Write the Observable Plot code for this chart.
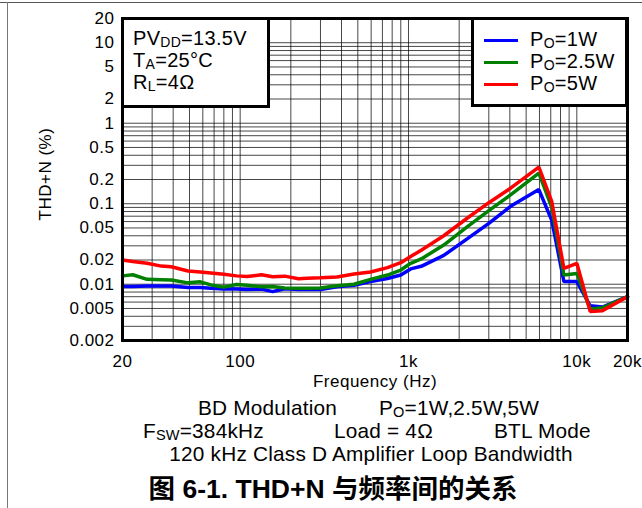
<!DOCTYPE html>
<html><head><meta charset="utf-8">
<script src="https://cdn.jsdelivr.net/npm/d3@7"></script>
<script src="https://cdn.jsdelivr.net/npm/@observablehq/plot@0.6"></script>
<style>
body{margin:0;background:#fff;}
#fig{position:relative;width:642px;height:508px;font-family:"Liberation Sans",Arial,"Noto Sans CJK SC",sans-serif;color:#000;overflow:hidden;background:#fff}
#fig svg{position:absolute;left:0;top:0}
#fig svg text{letter-spacing:0.5px}
.abs{position:absolute;white-space:nowrap}
.box{position:absolute;border:3px solid #000;background:#fff;box-sizing:border-box}
.sub{font-size:0.7em;position:relative;top:0.14em;line-height:0}
.lg{font-size:20px;letter-spacing:0.3px;line-height:22px}
.cap{font-size:20.8px;letter-spacing:0.2px;line-height:18px}
.sw{position:absolute;height:3px;width:34px}
</style></head><body>
<div id="fig"></div>
<script>
// ---- data ----
const freq = [20, 23, 28, 34, 39, 49, 58, 67, 80, 95, 110, 134, 156, 184, 222, 250, 300, 376, 475, 595, 750, 900, 1030, 1190, 1620, 2230, 3000, 4040, 5950, 7100, 8380, 10000, 12000, 14200, 20000];
const thd1W   = [0.0094, 0.0094, 0.0095, 0.0095, 0.0095, 0.0091, 0.0091, 0.0089, 0.0087, 0.0087, 0.0086, 0.0087, 0.0081, 0.0088, 0.0086, 0.0086, 0.0086, 0.0093, 0.0097, 0.0108, 0.0118, 0.0130, 0.0155, 0.0167, 0.0228, 0.0366, 0.0571, 0.093, 0.150, 0.062, 0.0108, 0.0108, 0.0054, 0.0052, 0.0070];
const thd2_5W = [0.0127, 0.0131, 0.0115, 0.0114, 0.0113, 0.0104, 0.0107, 0.0098, 0.0092, 0.0099, 0.0097, 0.0093, 0.0094, 0.0090, 0.0089, 0.0089, 0.0090, 0.0096, 0.0100, 0.0115, 0.0130, 0.0150, 0.0182, 0.0206, 0.0307, 0.0517, 0.082, 0.129, 0.240, 0.090, 0.0130, 0.0136, 0.0049, 0.0051, 0.0070];
const thd5W   = [0.0200, 0.0192, 0.0182, 0.0168, 0.0165, 0.0146, 0.0142, 0.0138, 0.0133, 0.0127, 0.0125, 0.0131, 0.0124, 0.0126, 0.0117, 0.0119, 0.0120, 0.0123, 0.0134, 0.0142, 0.0161, 0.0185, 0.0221, 0.0265, 0.0400, 0.066, 0.103, 0.156, 0.285, 0.106, 0.0157, 0.0182, 0.0046, 0.0047, 0.0070];

const seriesNames = ["P<span class='sub'>O</span>=1W", "P<span class='sub'>O</span>=2.5W", "P<span class='sub'>O</span>=5W"];
const seriesColors = ["#0000ff", "#008000", "#ff0000"];

const xTicks = [20, 100, 1000, 10000, 20000];
const xTickLabels = ["20", "100", "1k", "10k", "20k"];
const yTicks = [20, 10, 5, 2, 1, 0.5, 0.2, 0.1, 0.05, 0.02, 0.01, 0.005, 0.002];
const yTickLabels = ["20", "10", "5", "2", "1", "0.5", "0.2", "0.1", "0.05", "0.02", "0.01", "0.005", "0.002"];

const xLabel = "Frequency (Hz)";
const yLabel = "THD+N (%)";
const condLines = ["PV<span class='sub'>DD</span>=13.5V", "T<span class='sub'>A</span>=25°C", "R<span class='sub'>L</span>=4Ω"];

// log grid (1..9 per decade)
const decadesX = [10, 100, 1000, 10000];
const xGrid = decadesX.flatMap(d => [1,2,3,4,5,6,7,8,9].map(k => k * d)).filter(v => v >= 20 && v <= 20000);
const decadesY = [0.001, 0.01, 0.1, 1, 10];
const yGrid = decadesY.flatMap(d => [1,2,3,4,5,6,7,8,9].map(k => +(k * d).toPrecision(3))).filter(v => v >= 0.002 && v <= 20);

const rows = arr => freq.map((f, i) => ({f, v: arr[i]}));

const font = '"Liberation Sans", Arial, sans-serif';
const chart = Plot.plot({
  width: 642, height: 370,
  marginLeft: 122, marginRight: 15, marginTop: 18, marginBottom: 30,
  x: {type: "log", domain: [20, 20000]},
  y: {type: "log", domain: [0.002, 20], axis: null},
  style: {fontFamily: font, fontSize: "17px", color: "#000", background: "transparent", overflow: "visible"},
  marks: [
    Plot.ruleX(xGrid, {stroke: "#000", strokeOpacity: 0.72, strokeWidth: 1}),
    Plot.ruleY(yGrid, {stroke: "#000", strokeOpacity: 0.72, strokeWidth: 1}),
    Plot.line(rows(thd1W), {x: "f", y: "v", stroke: seriesColors[0], strokeWidth: 3.5, strokeLinejoin: "miter"}),
    Plot.line(rows(thd2_5W), {x: "f", y: "v", stroke: seriesColors[1], strokeWidth: 3.5, strokeLinejoin: "miter"}),
    Plot.line(rows(thd5W), {x: "f", y: "v", stroke: seriesColors[2], strokeWidth: 3.5, strokeLinejoin: "miter"}),
    Plot.frame({stroke: "#000", strokeWidth: 3}),
    Plot.axisX({ticks: xTicks, tickFormat: d => xTickLabels[xTicks.indexOf(d)], tickSize: 0, tickPadding: 14, label: null, fontSize: 17}),
    Plot.text(yTicks, {y: d => d, text: (d, i) => yTickLabels[i], frameAnchor: "left", textAnchor: "end", lineAnchor: "middle", dx: -8, fontSize: 17}),
    Plot.text([xLabel], {frameAnchor: "bottom", textAnchor: "middle", lineAnchor: "middle", dy: 41, fontSize: 17}),
    Plot.text([yLabel], {frameAnchor: "left", textAnchor: "middle", lineAnchor: "middle", dx: -77, dy: -5.5, rotate: -90, fontSize: 17})
  ]
});

const fig = document.getElementById("fig");
fig.appendChild(chart);

// figure border (top and left)
fig.insertAdjacentHTML("beforeend",
  `<div class="abs" style="left:0;top:2px;width:642px;height:1px;background:#555"></div>
   <div class="abs" style="left:7px;top:2px;width:1px;height:506px;background:#777"></div>`);

// conditions box
let cond = `<div class="box" style="left:121px;top:17px;width:149px;height:91px;padding:7px 0 0 9px">`;
cond += condLines.map(t => `<div class="lg">${t}</div>`).join("");
cond += `</div>`;
fig.insertAdjacentHTML("beforeend", cond);

// series legend box
let leg = `<div class="box" style="left:471px;top:17px;width:157px;height:90px"></div>`;
const rowCenters = [40, 62, 84];
seriesNames.forEach((n, i) => {
  leg += `<div class="sw" style="left:484px;top:${rowCenters[i] - 1.5}px;background:${seriesColors[i]}"></div>`;
  leg += `<div class="abs lg" style="left:530px;top:${rowCenters[i] - 12}px">${n}</div>`;
});
fig.insertAdjacentHTML("beforeend", leg);

// captions
const capLine1 = ["BD Modulation", "P<span class='sub'>O</span>=1W,2.5W,5W"];
const capLine2 = ["F<span class='sub'>SW</span>=384kHz", "Load = 4Ω", "BTL Mode"];
const capLine3 = "120 kHz Class D Amplifier Loop Bandwidth";
const title = "图 6-1. THD+N 与频率间的关系";
let caps = "";
caps += `<div class="abs cap" style="left:198px;top:399px">${capLine1[0]}</div>`;
caps += `<div class="abs cap" style="left:379px;top:399px">${capLine1[1]}</div>`;
caps += `<div class="abs cap" style="left:143px;top:422px">${capLine2[0]}</div>`;
caps += `<div class="abs cap" style="left:334px;top:422px">${capLine2[1]}</div>`;
caps += `<div class="abs cap" style="left:494px;top:422px">${capLine2[2]}</div>`;
caps += `<div class="abs cap" style="left:121px;width:500px;text-align:center;top:445px">${capLine3}</div>`;
caps += `<div class="abs" style="left:83px;width:500px;text-align:center;top:475px;font-size:26.5px;font-weight:bold;line-height:28px;font-family:'Liberation Sans','Noto Sans CJK SC',sans-serif">${title}</div>`;
fig.insertAdjacentHTML("beforeend", caps);
</script>
</body></html>
